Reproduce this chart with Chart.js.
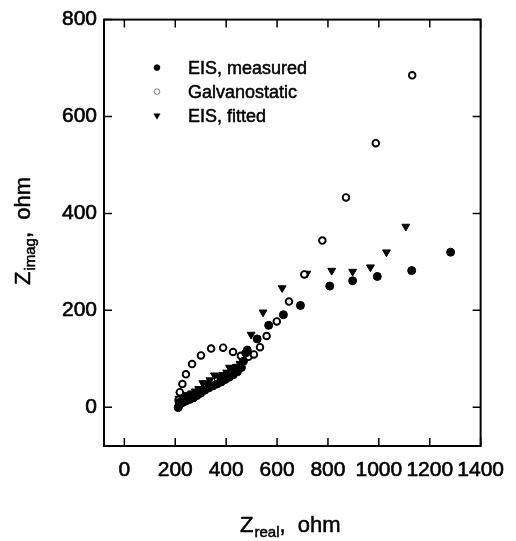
<!DOCTYPE html>
<html><head><meta charset="utf-8">
<script src="https://cdn.jsdelivr.net/npm/chart.js@4/dist/chart.umd.min.js"></script>
<style>html,body{margin:0;padding:0;background:#fff}canvas{display:block}</style>
</head><body>
<canvas id="c" width="516" height="541"></canvas>
<script>
// ---- data ----
const xTicks = [0, 200, 400, 600, 800, 1000, 1200, 1400];
const yTicks = [0, 200, 400, 600, 800];
const seriesNames = ['EIS, measured', 'Galvanostatic', 'EIS, fitted'];

const measuredX = [212, 216, 220, 230, 242, 256, 270, 285, 300, 316, 332, 348, 364, 380, 396, 412, 428, 444, 460, 468, 477, 483, 522, 567, 625, 692, 807, 897, 994, 1129, 1282];
const measuredY = [0, 10, 7, 10, 13, 16, 19, 24, 29, 35, 40, 44, 48, 52, 57, 62, 67, 73, 82, 95, 112, 118, 141, 169, 191, 210, 250, 261, 270, 282, 320];

const galvX = [211, 213, 218, 228, 242, 266, 301, 341, 388, 427, 458, 488, 509, 533, 559, 599, 647, 707, 778, 871, 988, 1131];
const galvY = [-1, 15, 31, 48, 68, 89, 107, 121, 123, 114, 106, 104, 109, 124, 147, 177, 218, 274, 344, 433, 545, 685];

const fittedX = [214, 218, 226, 238, 250, 264, 278, 292, 308, 322, 336, 354, 370, 386, 402, 413, 426, 440, 454, 468, 478, 498, 545, 620, 717, 815, 897, 967, 1030, 1106];
const fittedY = [18, 26, 22, 23, 26, 29, 33, 38, 50, 50, 56, 66, 63, 67, 72, 82, 80, 84, 90, 100, 110, 150, 196, 246, 276, 282, 280, 289, 320, 373];

const FONT = '"Liberation Sans", Arial, Helvetica, sans-serif';
const toPts = (xs, ys) => xs.map((x, i) => ({ x: x, y: ys[i] }));

// frame with inward tick marks on all four sides
const framePlugin = {
  id: 'frame',
  afterDraw(chart) {
    const { ctx, chartArea: a, scales: { x, y } } = chart;
    ctx.save();
    ctx.strokeStyle = '#000';
    ctx.lineWidth = 2;
    ctx.strokeRect(a.left, a.top, a.right - a.left, a.bottom - a.top);
    ctx.lineWidth = 1.5;
    ctx.beginPath();
    xTicks.forEach(v => {
      const p = x.getPixelForValue(v);
      ctx.moveTo(p, a.bottom); ctx.lineTo(p, a.bottom - 8);
      ctx.moveTo(p, a.top); ctx.lineTo(p, a.top + 8);
    });
    yTicks.forEach(v => {
      const p = y.getPixelForValue(v);
      ctx.moveTo(a.left, p); ctx.lineTo(a.left + 8, p);
      ctx.moveTo(a.right, p); ctx.lineTo(a.right - 8, p);
    });
    ctx.stroke();
    ctx.restore();
  }
};

function boldText(ctx, s, x, y) {
  ctx.fillText(s, x, y);
  ctx.lineWidth = 0.5;
  ctx.strokeStyle = '#000';
  ctx.strokeText(s, x, y);
}

// legend inside the plot area
const legendPlugin = {
  id: 'insideLegend',
  afterDraw(chart) {
    const { ctx, chartArea: a } = chart;
    const mx = a.left + 53, tx = a.left + 84, y0 = a.top + 48, dy = 24;
    const sizes = [2.8, 2.8, 3.6];
    ctx.save();
    chart.data.datasets.forEach((ds, i) => {
      const yy = y0 + i * dy;
      ctx.fillStyle = ds.backgroundColor;
      ctx.strokeStyle = ds.borderColor;
      Chart.helpers.drawPoint(ctx, {
        pointStyle: ds.pointStyle, rotation: ds.pointRotation || 0,
        radius: sizes[i], borderWidth: ds.borderWidth
      }, mx, yy);
      ctx.fillStyle = '#000';
      ctx.font = '18px ' + FONT;
      ctx.textBaseline = 'middle';
      ctx.textAlign = 'left';
      boldText(ctx, ds.label, tx, yy + 1);
    });
    ctx.restore();
  }
};

// axis titles with subscripts
function drawTitle(ctx, main, sub, rest) {
  const big = '22px ' + FONT, small = '15px ' + FONT;
  ctx.font = big; const w1 = ctx.measureText(main).width;
  ctx.font = small; const w2 = ctx.measureText(sub).width;
  ctx.font = big; const w3 = ctx.measureText(rest).width;
  const total = w1 + 1 + w2 + w3;
  let x = -total / 2;
  ctx.textBaseline = 'alphabetic';
  ctx.textAlign = 'left';
  ctx.font = big; boldText(ctx, main, x, 0); x += w1 + 1;
  ctx.font = small; boldText(ctx, sub, x, 5); x += w2;
  ctx.font = big; boldText(ctx, rest, x, 0);
}
const titlePlugin = {
  id: 'titles',
  afterDraw(chart) {
    const { ctx, chartArea: a } = chart;
    ctx.save();
    ctx.fillStyle = '#000';
    ctx.translate((a.left + a.right) / 2 - 2, 532);
    drawTitle(ctx, 'Z', 'real', ',  ohm');
    ctx.restore();
    ctx.save();
    ctx.fillStyle = '#000';
    ctx.translate(30, 231);
    ctx.rotate(-Math.PI / 2);
    drawTitle(ctx, 'Z', 'imag', ',  ohm');
    ctx.restore();
  }
};

const tickFont = { family: FONT, size: 21 };

new Chart(document.getElementById('c'), {
  type: 'scatter',
  data: {
    datasets: [
      { label: seriesNames[0], data: toPts(measuredX, measuredY), pointStyle: 'circle', pointRadius: 4,
        backgroundColor: '#000', borderColor: '#000', borderWidth: 1 },
      { label: seriesNames[1], data: toPts(galvX, galvY), pointStyle: 'circle', pointRadius: 3.3,
        backgroundColor: '#fff', borderColor: '#000', borderWidth: 1.9 },
      { label: seriesNames[2], data: toPts(fittedX, fittedY), pointStyle: 'triangle', pointRotation: 180, pointRadius: 4.5,
        backgroundColor: '#000', borderColor: '#000', borderWidth: 1 }
    ]
  },
  options: {
    responsive: false,
    animation: false,
    devicePixelRatio: 1,
    layout: { padding: { top: 14, right: 32, left: 0, bottom: 0 } },
    plugins: { legend: { display: false }, tooltip: { enabled: false } },
    scales: {
      x: {
        type: 'linear', position: 'bottom', min: -80, max: 1400,
        afterBuildTicks: s => { s.ticks = xTicks.map(v => ({ value: v })); },
        afterFit: s => { s.height = 95; },
        grid: { display: false, drawTicks: false },
        border: { display: false },
        ticks: { font: tickFont, color: '#000', padding: 12, maxRotation: 0, autoSkip: false,
                 textStrokeColor: '#000', textStrokeWidth: 0.6, callback: v => String(v) }
      },
      y: {
        type: 'linear', position: 'left', min: -80, max: 800,
        afterBuildTicks: s => { s.ticks = yTicks.map(v => ({ value: v })); },
        afterFit: s => { s.width = 104; },
        grid: { display: false, drawTicks: false },
        border: { display: false },
        ticks: { font: tickFont, color: '#000', padding: 7, autoSkip: false,
                 textStrokeColor: '#000', textStrokeWidth: 0.6, callback: v => String(v) }
      }
    }
  },
  plugins: [framePlugin, legendPlugin, titlePlugin]
});
</script>
</body></html>
